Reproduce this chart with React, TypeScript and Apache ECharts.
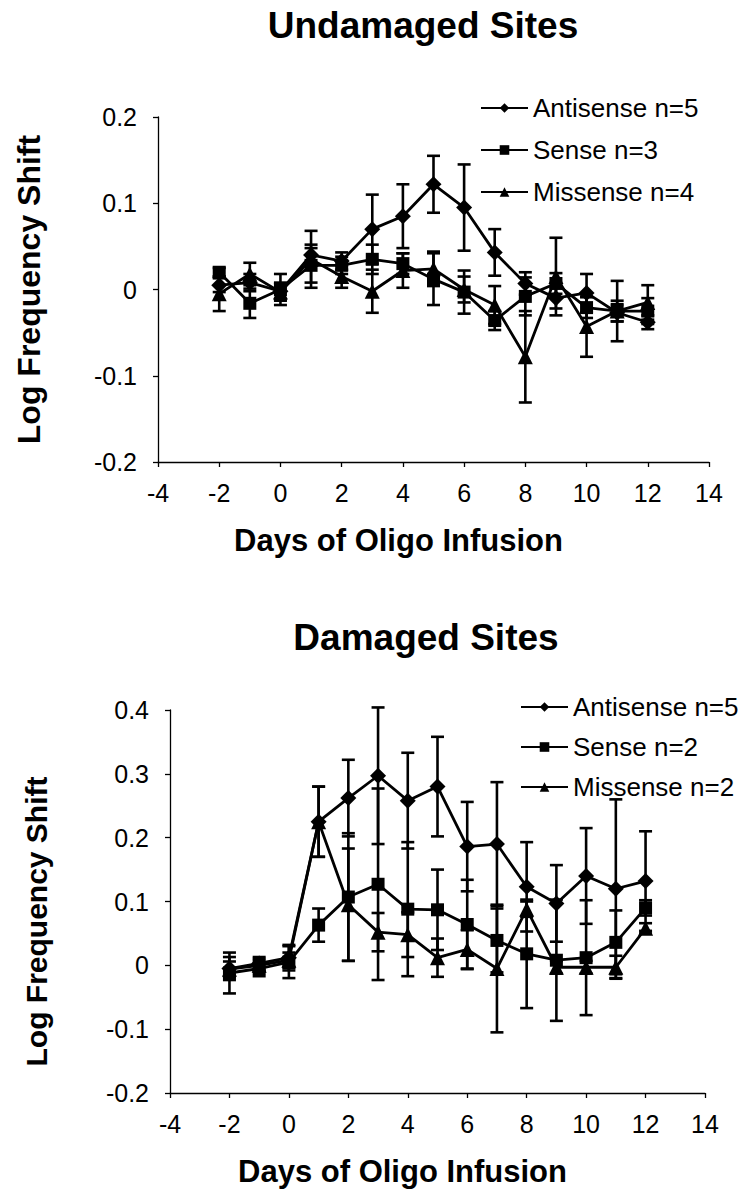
import React, { useEffect, useRef } from "react";
import * as echarts from "echarts";

// ---------- data ----------
const days = [-2, -1, 0, 1, 2, 3, 4, 5, 6, 7, 8, 9, 10, 11, 12];

// Undamaged sites
const uAntiName = "Antisense n=5";
const uSenseName = "Sense n=3";
const uMissName = "Missense n=4";
const uAnti = [0.005, 0.008, -0.002, 0.04, 0.033, 0.07, 0.085, 0.122, 0.095, 0.043, 0.007, -0.01, -0.004, -0.027, -0.038];
const uAntiErr = [0.008, 0.01, 0.01, 0.012, 0.01, 0.04, 0.037, 0.033, 0.05, 0.027, 0.013, 0.012, 0.022, 0.01, 0.008];
const uSense = [0.02, -0.016, 0.0, 0.028, 0.028, 0.035, 0.03, 0.012, -0.003, -0.036, -0.008, 0.007, -0.021, -0.025, -0.025];
const uSenseErr = [0.005, 0.017, 0.018, 0.02, 0.01, 0.017, 0.012, 0.03, 0.025, 0.011, 0.022, 0.012, 0.012, 0.012, 0.015];
const uMiss = [-0.005, 0.018, -0.003, 0.035, 0.015, -0.002, 0.022, 0.024, 0.0, -0.018, -0.078, 0.015, -0.043, -0.025, -0.015];
const uMissErr = [0.02, 0.013, 0.01, 0.033, 0.013, 0.025, 0.02, 0.02, 0.015, 0.022, 0.053, 0.045, 0.035, 0.035, 0.02];

// Damaged sites
const dAntiName = "Antisense n=5";
const dSenseName = "Sense n=2";
const dMissName = "Missense n=2";
const dAnti = [-0.005, 0.003, 0.012, 0.225, 0.262, 0.297, 0.258, 0.28, 0.186, 0.19, 0.123, 0.097, 0.14, 0.12, 0.132];
const dAntiErr = [0.018, 0.01, 0.02, 0.055, 0.06, 0.107, 0.075, 0.078, 0.07, 0.097, 0.07, 0.06, 0.075, 0.14, 0.078];
const dSense = [-0.012, -0.005, 0.005, 0.063, 0.107, 0.127, 0.088, 0.087, 0.064, 0.039, 0.018, 0.008, 0.012, 0.036, 0.09];
const dSenseErr = [0.032, 0.012, 0.025, 0.026, 0.1, 0.15, 0.105, 0.063, 0.07, 0.05, 0.085, 0.095, 0.09, 0.05, 0.012];
const dMiss = [-0.006, 0.0, 0.008, 0.225, 0.095, 0.052, 0.048, 0.012, 0.025, -0.005, 0.088, -0.003, -0.003, -0.003, 0.058];
const dMissErr = [0.012, 0.01, 0.012, 0.055, 0.088, 0.03, 0.035, 0.03, 0.03, 0.1, 0.012, 0.01, 0.01, 0.018, 0.008];

const FONT = "Liberation Sans, Arial, sans-serif";

function lineSeries(name: string, vals: number[], symbol: string, size: number, idx: number) {
  return {
    type: "line",
    name,
    xAxisIndex: idx,
    yAxisIndex: idx,
    data: days.map((d, i) => [d, vals[i]]),
    symbol,
    symbolSize: size,
    showSymbol: true,
    itemStyle: { color: "#000" },
    lineStyle: { color: "#000", width: 2.8 },
    z: 3,
  };
}

function errSeries(vals: number[], errs: number[], idx: number) {
  return {
    type: "custom",
    xAxisIndex: idx,
    yAxisIndex: idx,
    data: days.map((d, i) => [d, vals[i] - errs[i], vals[i] + errs[i]]),
    encode: { x: 0, y: [1, 2] },
    z: 2,
    renderItem: (params: any, api: any) => {
      const x = api.value(0);
      const lo = api.value(1);
      const hi = api.value(2);
      const p1 = api.coord([x, hi]);
      const p2 = api.coord([x, lo]);
      const hw = 6.5;
      const st = { stroke: "#000", lineWidth: 2.6 };
      return {
        type: "group",
        children: [
          { type: "line", shape: { x1: p1[0], y1: p1[1], x2: p2[0], y2: p2[1] }, style: st },
          { type: "line", shape: { x1: p1[0] - hw, y1: p1[1], x2: p1[0] + hw, y2: p1[1] }, style: st },
          { type: "line", shape: { x1: p2[0] - hw, y1: p2[1], x2: p2[0] + hw, y2: p2[1] }, style: st },
        ],
      };
    },
  };
}

const fmt = (v: number) => String(Math.round(v * 10) / 10);

function xAxisDef(idx: number) {
  return {
    type: "value",
    gridIndex: idx,
    min: -4,
    max: 14,
    interval: 2,
    name: "Days of Oligo Infusion",
    nameLocation: "middle",
    nameGap: 63,
    nameTextStyle: { fontFamily: FONT, fontSize: 31, fontWeight: "bold", color: "#000", padding: [0, 70, 0, 0] },
    axisLine: { onZero: false, lineStyle: { color: "#000", width: 1.3 } },
    axisTick: { show: true, length: 5, lineStyle: { color: "#000", width: 1.3 } },
    axisLabel: { fontFamily: FONT, fontSize: 25, color: "#000", margin: 18, formatter: fmt },
    splitLine: { show: false },
  };
}

function yAxisDef(idx: number, min: number, max: number, gap: number, size: number, pad: number[]) {
  return {
    type: "value",
    gridIndex: idx,
    min,
    max,
    interval: 0.1,
    name: "Log Frequency Shift",
    nameLocation: "middle",
    nameRotate: 90,
    nameGap: gap,
    nameTextStyle: { fontFamily: FONT, fontSize: size, fontWeight: "bold", color: "#000", padding: pad },
    axisLine: { onZero: false, lineStyle: { color: "#000", width: 1.3 } },
    axisTick: { show: true, length: 5, lineStyle: { color: "#000", width: 1.3 } },
    axisLabel: { fontFamily: FONT, fontSize: 25, color: "#000", margin: 21, formatter: fmt },
    splitLine: { show: false },
  };
}

function legendDef(names: string[], left: number, top: number, gap: number) {
  return {
    orient: "vertical",
    left,
    top,
    data: names,
    itemWidth: 47,
    itemHeight: 12,
    itemGap: gap,
    selectedMode: false,
    textStyle: { fontFamily: FONT, fontSize: 26, color: "#000", lineHeight: 26 },
  };
}

export default function App() {
  const ref = useRef<HTMLDivElement>(null);
  useEffect(() => {
    if (!ref.current) return;
    const chart = echarts.init(ref.current, undefined, { renderer: "svg" });
    chart.setOption({
      animation: false,
      backgroundColor: "#fff",
      grid: [
        { left: 158, top: 117, width: 551, height: 345 },
        { left: 170, top: 710, width: 535, height: 383 },
      ],
      xAxis: [xAxisDef(0), xAxisDef(1)],
      yAxis: [
        yAxisDef(0, -0.2, 0.2, 113, 32, [0, 0, 0, 0]),
        yAxisDef(1, -0.2, 0.4, 119, 30, [0, 40, 0, 0]),
      ],
      legend: [
        legendDef([uAntiName, uSenseName, uMissName], 475, 90, 16),
        legendDef([dAntiName, dSenseName, dMissName], 515, 689, 14),
      ],
      graphic: [
        {
          type: "text",
          x: 423,
          y: 25,
          style: { text: "Undamaged Sites", font: `bold 37px ${FONT}`, fill: "#000", align: "center", verticalAlign: "middle" },
        },
        {
          type: "text",
          x: 426,
          y: 637,
          style: { text: "Damaged Sites", font: `bold 37px ${FONT}`, fill: "#000", align: "center", verticalAlign: "middle" },
        },
      ],
      series: [
        errSeries(uAnti, uAntiErr, 0),
        errSeries(uSense, uSenseErr, 0),
        errSeries(uMiss, uMissErr, 0),
        lineSeries(uAntiName, uAnti, "diamond", 16, 0),
        lineSeries(uSenseName, uSense, "rect", 13, 0),
        lineSeries(uMissName, uMiss, "triangle", 15, 0),
        errSeries(dAnti, dAntiErr, 1),
        errSeries(dSense, dSenseErr, 1),
        errSeries(dMiss, dMissErr, 1),
        lineSeries(dAntiName, dAnti, "diamond", 16, 1),
        lineSeries(dSenseName, dSense, "rect", 13, 1),
        lineSeries(dMissName, dMiss, "triangle", 15, 1),
      ],
    });
    return () => chart.dispose();
  }, []);
  return <div ref={ref} style={{ position: "absolute", left: 0, top: 0, width: 755, height: 1199 }} />;
}
